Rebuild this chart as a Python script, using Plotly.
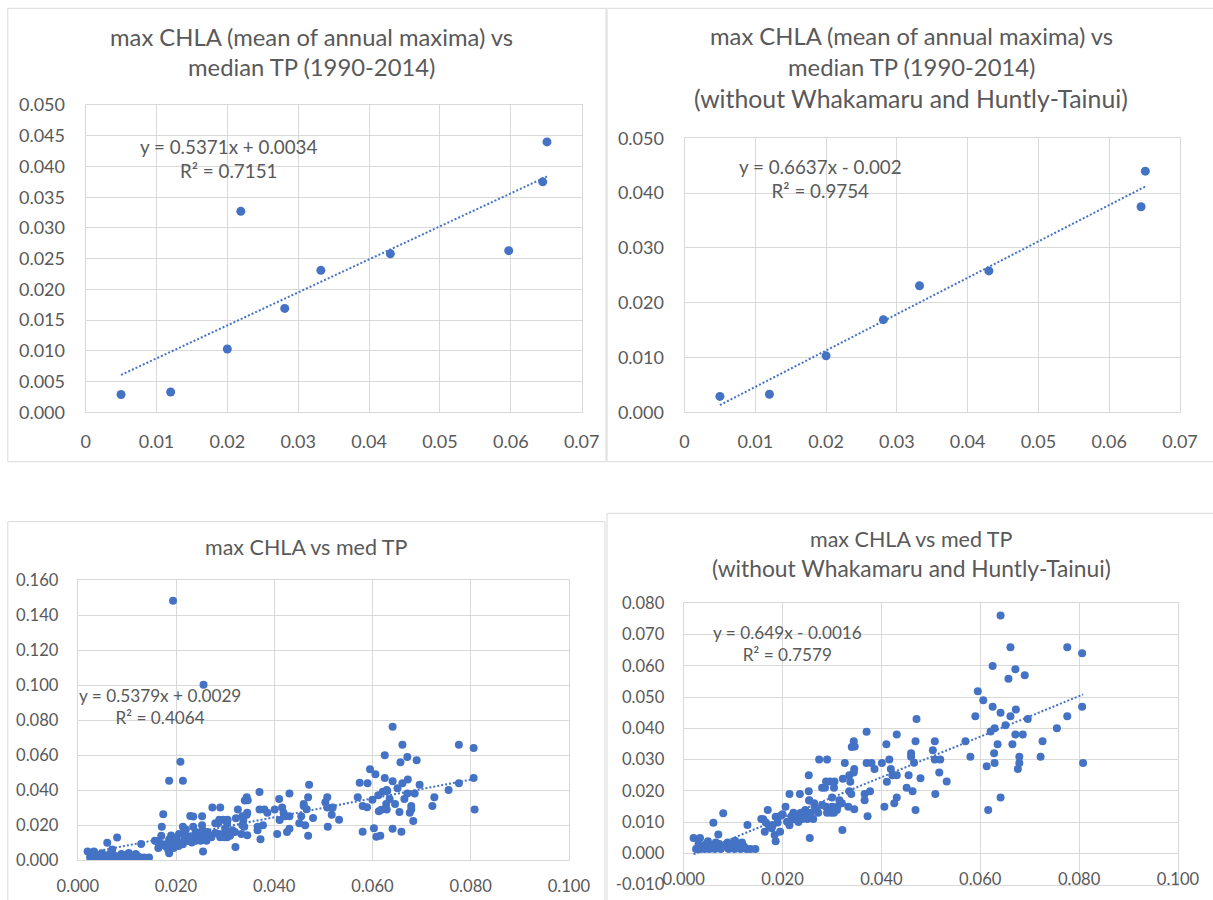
import plotly.graph_objects as go

# ---------------- data ----------------
# Site-level (mean of annual maxima vs median TP, 1990-2014)
site_tp = [0.0050, 0.0120, 0.0200, 0.0219, 0.0281, 0.0332, 0.0430, 0.0597, 0.0645, 0.0651]
site_chla = [0.0029, 0.0033, 0.0103, 0.0327, 0.0169, 0.0231, 0.0258, 0.0263, 0.0375, 0.0440]
site_excluded = [False, False, False, True, False, False, False, True, False, False]

# Annual points (sites other than Whakamaru and Huntly-Tainui)
tp_other = [
    0.0641, 0.0661, 0.0776, 0.0806, 0.0625, 0.0671, 0.0657, 0.0690, 0.0595, 0.0606,
    0.0625, 0.0672, 0.0641, 0.0661, 0.0590, 0.0696, 0.0806, 0.0776, 0.0755, 0.0651,
    0.0629, 0.0621, 0.0671, 0.0686, 0.0570, 0.0635, 0.0665, 0.0726, 0.0580, 0.0628,
    0.0679, 0.0722, 0.0613, 0.0629, 0.0679, 0.0676, 0.0808, 0.0641, 0.0616,
    0.0508, 0.0504, 0.0508, 0.0519, 0.0517, 0.0532, 0.0509, 0.0471, 0.0431, 0.0410,
    0.0469, 0.0460, 0.0460, 0.0466, 0.0416, 0.0401, 0.0419, 0.0411, 0.0422, 0.0431,
    0.0455, 0.0451, 0.0463, 0.0479, 0.0431, 0.0426, 0.0406, 0.0469,
    0.0370, 0.0344, 0.0340, 0.0346, 0.0274, 0.0290, 0.0326, 0.0370, 0.0380, 0.0386,
    0.0345, 0.0344, 0.0335, 0.0253, 0.0322, 0.0288, 0.0296, 0.0305, 0.0337, 0.0280,
    0.0286, 0.0304, 0.0253, 0.0335, 0.0377, 0.0235, 0.0214, 0.0366, 0.0300, 0.0339,
    0.0254, 0.0315, 0.0366, 0.0264, 0.0206, 0.0288, 0.0300, 0.0311, 0.0333, 0.0345,
    0.0269, 0.0372, 0.0246, 0.0237, 0.0222, 0.0218, 0.0229, 0.0272, 0.0304, 0.0310,
    0.0298, 0.0290, 0.0321, 0.0255, 0.0214, 0.0222, 0.0209, 0.0170, 0.0161, 0.0166,
    0.0164, 0.0186, 0.0178, 0.0184, 0.0186, 0.0195, 0.0172, 0.0190, 0.0200, 0.0228,
    0.0240, 0.0250, 0.0262, 0.0257, 0.0232, 0.0245, 0.0265, 0.0280, 0.0320, 0.0254,
    0.0080, 0.0060, 0.0070, 0.0129, 0.0020, 0.0033, 0.0049, 0.0025, 0.0033, 0.0042,
    0.0052, 0.0063, 0.0075, 0.0091, 0.0103, 0.0115, 0.0127, 0.0135, 0.0145, 0.0040,
    0.0056, 0.0072, 0.0089, 0.0104, 0.0118, 0.0110, 0.0095, 0.0065, 0.0122, 0.0030,
    0.0082, 0.0100, 0.0045, 0.0157, 0.0180, 0.0196,
]
chla_other = [
    0.0761, 0.0659, 0.0659, 0.0640, 0.0599, 0.0589, 0.0559, 0.0570, 0.0519, 0.0490,
    0.0469, 0.0460, 0.0450, 0.0439, 0.0439, 0.0430, 0.0469, 0.0439, 0.0400, 0.0410,
    0.0400, 0.0390, 0.0380, 0.0380, 0.0359, 0.0349, 0.0349, 0.0359, 0.0309, 0.0320,
    0.0309, 0.0309, 0.0279, 0.0289, 0.0289, 0.0270, 0.0289, 0.0179, 0.0139,
    0.0359, 0.0330, 0.0300, 0.0300, 0.0259, 0.0230, 0.0190, 0.0430, 0.0380, 0.0349,
    0.0359, 0.0320, 0.0309, 0.0290, 0.0300, 0.0289, 0.0270, 0.0229, 0.0250, 0.0250,
    0.0250, 0.0210, 0.0199, 0.0240, 0.0179, 0.0160, 0.0149, 0.0139,
    0.0389, 0.0359, 0.0340, 0.0342, 0.0300, 0.0300, 0.0289, 0.0289, 0.0289, 0.0270,
    0.0270, 0.0259, 0.0250, 0.0250, 0.0239, 0.0230, 0.0230, 0.0230, 0.0229, 0.0210,
    0.0210, 0.0210, 0.0199, 0.0199, 0.0199, 0.0190, 0.0190, 0.0190, 0.0179, 0.0190,
    0.0170, 0.0170, 0.0170, 0.0160, 0.0149, 0.0149, 0.0149, 0.0149, 0.0149, 0.0141,
    0.0139, 0.0119, 0.0139, 0.0130, 0.0130, 0.0119, 0.0109, 0.0130, 0.0130, 0.0139,
    0.0130, 0.0130, 0.0075, 0.0049, 0.0090, 0.0109, 0.0101, 0.0139, 0.0109, 0.0099,
    0.0069, 0.0117, 0.0080, 0.0059, 0.0039, 0.0069, 0.0090, 0.0099, 0.0125, 0.0120,
    0.0110, 0.0110, 0.0110, 0.0130, 0.0100, 0.0125, 0.0150, 0.0155, 0.0160, 0.0169,
    0.0128, 0.0098, 0.0060, 0.0091, 0.0049, 0.0049, 0.0039, 0.0014, 0.0014, 0.0014,
    0.0014, 0.0014, 0.0014, 0.0014, 0.0014, 0.0014, 0.0014, 0.0014, 0.0014, 0.0022,
    0.0025, 0.0030, 0.0035, 0.0040, 0.0035, 0.0025, 0.0020, 0.0035, 0.0022, 0.0030,
    0.0022, 0.0030, 0.0030, 0.0110, 0.0090, 0.0120,
]

# Annual points of the two excluded sites
tp_whakamaru = [0.0194, 0.0256, 0.0209, 0.0186, 0.0214, 0.0174, 0.0171, 0.0229, 0.0235,
                0.0190, 0.0200, 0.0205, 0.0215, 0.0225, 0.0240, 0.0188, 0.0220, 0.0248]
chla_whakamaru = [0.1482, 0.1002, 0.0562, 0.0453, 0.0453, 0.0261, 0.0190, 0.0251, 0.0248,
                  0.0140, 0.0110, 0.0080, 0.0150, 0.0135, 0.0160, 0.0095, 0.0175, 0.0140]
tp_huntly = [0.0574, 0.0589, 0.0580, 0.0603, 0.0608, 0.0659, 0.0683, 0.0612, 0.0630,
             0.0618, 0.0646, 0.0655, 0.0600]
chla_huntly = [0.0442, 0.0301, 0.0162, 0.0181, 0.0133, 0.0162, 0.0223, 0.0370, 0.0395,
               0.0287, 0.0320, 0.0275, 0.0345]

# Trendline coefficients (as labelled on the chart)
fit_slope = [0.5371, 0.6637, 0.5379, 0.649]
fit_icpt = [0.0034, -0.002, 0.0029, -0.0016]
fit_labels = ["y = 0.5371x + 0.0034<br>R² = 0.7151",
              "y = 0.6637x - 0.002<br>R² = 0.9754",
              "y = 0.5379x + 0.0029<br>R² = 0.4064",
              "y = 0.649x - 0.0016<br>R² = 0.7579"]

titles = [
    ["max CHLA (mean of annual maxima) vs", "median TP (1990-2014)"],
    ["max CHLA (mean of annual maxima) vs", "median TP (1990-2014)", "(without Whakamaru and Huntly-Tainui)"],
    ["max CHLA vs med TP"],
    ["max CHLA vs med TP", "(without Whakamaru and Huntly-Tainui)"],
]

# Tick values / labels
x_ticks_top = [0, 0.01, 0.02, 0.03, 0.04, 0.05, 0.06, 0.07]
x_labels_top = ["0", "0.01", "0.02", "0.03", "0.04", "0.05", "0.06", "0.07"]
y_ticks_p1 = [0, 0.005, 0.01, 0.015, 0.02, 0.025, 0.03, 0.035, 0.04, 0.045, 0.05]
y_ticks_p2 = [0, 0.01, 0.02, 0.03, 0.04, 0.05]
x_ticks_bot = [0, 0.02, 0.04, 0.06, 0.08, 0.1]
y_ticks_p3 = [0, 0.02, 0.04, 0.06, 0.08, 0.1, 0.12, 0.14, 0.16]
y_ticks_p4 = [-0.01, 0, 0.01, 0.02, 0.03, 0.04, 0.05, 0.06, 0.07, 0.08]


def fmt3(vals):
    return [f"{v:.3f}" for v in vals]


# ---------------- build ----------------
W, H = 1213, 900
BLUE = "#4472C4"
GRID = "#D9D9D9"
TXT = "#595959"
FONT = "Lato"


def dx(a, b):
    return [a / W, b / W]


def dy(top, bottom):
    return [1 - bottom / H, 1 - top / H]


panels = [
    dict(xd=(85.6, 581.7), yd=(105.0, 412.3), xr=[0, 0.07], yr=[0, 0.05],
         xt=x_ticks_top, xl=x_labels_top, yt=y_ticks_p1, tx=311, ty=[37, 67],
         tsize=[23.8, 23.8], eq=(229, 158.5), eqsize=18.8, ticksize=18,
         ystand=16, msize=9, xstand=13),
    dict(xd=(684.5, 1180.0), yd=(138.3, 412.3), xr=[0, 0.07], yr=[0, 0.05],
         xt=x_ticks_top, xl=x_labels_top, yt=y_ticks_p2, tx=911, ty=[36, 67, 99],
         tsize=[23.8, 23.8, 24.8], eq=(821, 178.5), eqsize=18.8, ticksize=18,
         ystand=16, msize=9, xstand=13),
    dict(xd=(77.8, 568.9), yd=(580.0, 860.0), xr=[0, 0.1], yr=[0, 0.16],
         xt=x_ticks_bot, xl=fmt3(x_ticks_bot), yt=y_ticks_p3, tx=306, ty=[547],
         tsize=[21.5], eq=(160, 706), eqsize=17.2, ticksize=16.6,
         ystand=15, msize=8, xstand=11),
    dict(xd=(683.7, 1178.0), yd=(603.3, 884.6), xr=[0, 0.1], yr=[-0.01, 0.08],
         xt=x_ticks_bot, xl=fmt3(x_ticks_bot), yt=y_ticks_p4, tx=911, ty=[539, 568],
         tsize=[21.5, 22.8], eq=(787, 643.5), eqsize=17.2, ticksize=16.6,
         ystand=15, msize=8, xstand=-21),
]

series = [
    (site_tp, site_chla),
    ([x for x, e in zip(site_tp, site_excluded) if not e],
     [y for y, e in zip(site_chla, site_excluded) if not e]),
    (tp_other + tp_whakamaru + tp_huntly, chla_other + chla_whakamaru + chla_huntly),
    (tp_other, chla_other),
]

fig = go.Figure()
annotations = []
shapes = []

for i, (p, (xs, ys)) in enumerate(zip(panels, series), start=1):
    xa = "x" if i == 1 else f"x{i}"
    ya = "y" if i == 1 else f"y{i}"
    fig.add_trace(go.Scatter(x=xs, y=ys, mode="markers", xaxis=xa, yaxis=ya,
                             marker=dict(color=BLUE, size=p["msize"], line=dict(width=0)),
                             showlegend=False, hoverinfo="x+y"))
    x0, x1 = min(xs), max(xs)
    fig.add_trace(go.Scatter(x=[x0, x1],
                             y=[fit_slope[i - 1] * x0 + fit_icpt[i - 1], fit_slope[i - 1] * x1 + fit_icpt[i - 1]],
                             mode="lines", xaxis=xa, yaxis=ya,
                             line=dict(color=BLUE, width=2, dash="2px,2px"),
                             showlegend=False, hoverinfo="skip"))
    common = dict(showgrid=True, gridcolor=GRID, gridwidth=1, zeroline=False,
                  showline=True, linecolor=GRID, linewidth=1, mirror=True,
                  ticks="", tickfont=dict(family=FONT, size=p["ticksize"], color=TXT),
                  fixedrange=True, automargin=False)
    fig.layout[f"xaxis{'' if i == 1 else i}"] = dict(
        domain=dx(*p["xd"]), range=p["xr"], anchor=ya,
        tickmode="array", tickvals=p["xt"], ticktext=p["xl"],
        ticklabelstandoff=p["xstand"], **common)
    fig.layout[f"yaxis{'' if i == 1 else i}"] = dict(
        domain=dy(*p["yd"]), range=p["yr"], anchor=xa,
        tickmode="array", tickvals=p["yt"], ticktext=fmt3(p["yt"]),
        ticklabelstandoff=p["ystand"], **common)
    for line, yy, fs in zip(titles[i - 1], p["ty"], p["tsize"]):
        annotations.append(dict(text=line, x=p["tx"] / W, y=1 - yy / H, xref="paper", yref="paper",
                                xanchor="center", yanchor="middle", showarrow=False,
                                font=dict(family=FONT, size=fs, color=TXT)))
    annotations.append(dict(text=fit_labels[i - 1], x=p["eq"][0] / W, y=1 - p["eq"][1] / H,
                            xref="paper", yref="paper", xanchor="center", yanchor="middle",
                            align="center", showarrow=False,
                            font=dict(family=FONT, size=p["eqsize"], color=TXT)))

# chart-area borders
for (l, t, r, b) in [(7.8, 8.3, 606, 461.7), (607, 8.3, 1216, 461.7),
                     (7.8, 521.7, 605, 905), (607, 513.3, 1216, 905)]:
    shapes.append(dict(type="rect", xref="paper", yref="paper",
                       x0=l / W, x1=r / W, y0=1 - b / H, y1=1 - t / H,
                       line=dict(color=GRID, width=1), fillcolor="rgba(0,0,0,0)", layer="below"))

fig.update_layout(width=W, height=H, autosize=False,
                  margin=dict(l=0, r=0, t=0, b=0, pad=0, autoexpand=False),
                  paper_bgcolor="white", plot_bgcolor="white",
                  annotations=annotations, shapes=shapes,
                  font=dict(family=FONT, color=TXT))

fig.write_html("out.html", config={"displayModeBar": False, "responsive": False},
               post_script="document.body.style.margin='0';document.body.style.overflow='hidden';")
